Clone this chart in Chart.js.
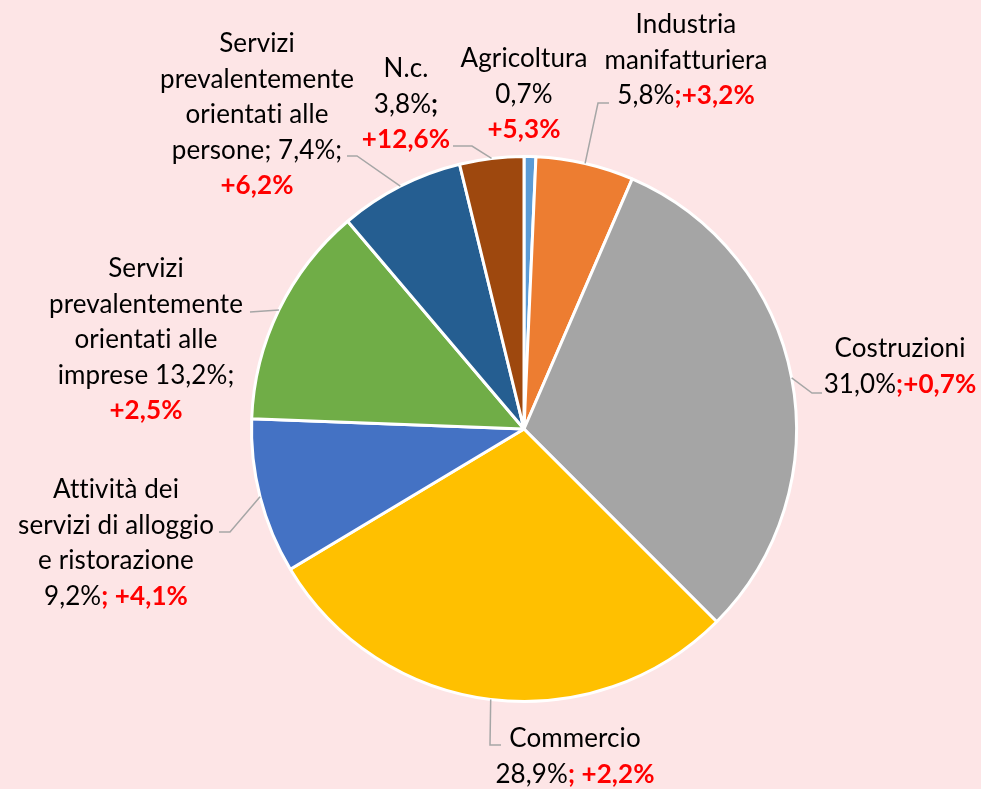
<!DOCTYPE html>
<html>
<head>
<meta charset="utf-8">
<script src="https://cdn.jsdelivr.net/npm/chart.js@4"></script>
<style>
    html, body { margin: 0; padding: 0; background: #fde5e6; }
    #wrap { width: 981px; height: 789px; position: relative; }
</style>
</head>
<body>
<div id="wrap"><canvas id="pieChart" width="981" height="789"></canvas></div>
<script>
// dati
const categories = [
    'Agricoltura', 'Industria manifatturiera', 'Costruzioni', 'Commercio',
    'Attività dei servizi di alloggio e ristorazione',
    'Servizi prevalentemente orientati alle imprese',
    'Servizi prevalentemente orientati alle persone', 'N.c.'
];
const shares = [0.7, 5.8, 31.0, 28.9, 9.2, 13.2, 7.4, 3.8];
const changes = [5.3, 3.2, 0.7, 2.2, 4.1, 2.5, 6.2, 12.6];
const sliceColors = ['#5b9bd5', '#ed7d31', '#a5a5a5', '#ffc000', '#4472c4', '#70ad47', '#255e91', '#9e480e'];

const FONT = 'Lato, "Liberation Sans", sans-serif';
const FONT_SIZE = 26;
const LINE_H = 35.5;
const RED = '#ff0000';

function fmt(v) {
    return v.toFixed(1).replace('.', ',') + '%';
}

// righe delle etichette: {S} = quota, {C} = variazione; ogni segmento [testo, grassetto, rosso]
const labelLines = [
    [[['Agricoltura']], [['{S}']], [['+{C}', true, true]]],
    [[['Industria']], [['manifatturiera']], [['{S}'], [';+{C}', true, true]]],
    [[['Costruzioni']], [['{S}'], [';+{C}', true, true]]],
    [[['Commercio']], [['{S}'], ['; +{C}', true, true]]],
    [[['Attività dei']], [['servizi di alloggio']], [['e ristorazione']], [['{S}'], ['; +{C}', true, true]]],
    [[['Servizi']], [['prevalentemente']], [['orientati alle']], [['imprese {S};']], [['+{C}', true, true]]],
    [[['Servizi']], [['prevalentemente']], [['orientati alle']], [['persone; {S};']], [['+{C}', true, true]]],
    [[['N.c.']], [['{S}'], [';', true]], [['+{C}', true, true]]]
];
// posizione etichetta (centro x, baseline prima riga) e linee guida (gomito, fine)
const labelPos = [[524, 67], [686, 33], [900, 357], [575, 747], [116, 498], [146, 277], [257, 52], [406, 77]];
const leaders = [
    null,
    [[598, 103], [609, 103]],
    [[812, 393], [822, 393]],
    [[490, 745], [501, 745]],
    [[230, 532], [219, 532]],
    [[250, 312], [250, 312]],
    [[357, 156], [347, 156]],
    [[472, 146], [453, 146]]
];

const pieLabels = {
    id: 'pieLabels',
    afterDatasetsDraw(chart) {
        const ctx = chart.ctx;
        const arcs = chart.getDatasetMeta(0).data;
        ctx.save();

        // linee guida
        ctx.strokeStyle = '#a6a6a6';
        ctx.lineWidth = 1.5;
        arcs.forEach((arc, i) => {
            if (!leaders[i]) return;
            const mid = (arc.startAngle + arc.endAngle) / 2;
            const x0 = arc.x + Math.cos(mid) * arc.outerRadius;
            const y0 = arc.y + Math.sin(mid) * arc.outerRadius;
            ctx.beginPath();
            ctx.moveTo(x0, y0);
            ctx.lineTo(leaders[i][0][0], leaders[i][0][1]);
            ctx.lineTo(leaders[i][1][0], leaders[i][1][1]);
            ctx.stroke();
        });

        // testi (letterSpacing minimo per evitare le legature)
        ctx.textBaseline = 'alphabetic';
        ctx.textAlign = 'left';
        if ('letterSpacing' in ctx) ctx.letterSpacing = '0.1px';
        labelLines.forEach((lines, i) => {
            const [cx, by] = labelPos[i];
            lines.forEach((segs, li) => {
                const parts = segs.map(s => ({
                    text: s[0].replace('{S}', fmt(shares[i])).replace('{C}', fmt(changes[i])),
                    font: (s[1] ? 'bold ' : '') + FONT_SIZE + 'px ' + FONT,
                    color: s[2] ? RED : '#000'
                }));
                let total = 0;
                parts.forEach(p => { ctx.font = p.font; p.w = ctx.measureText(p.text).width; total += p.w; });
                let x = cx - total / 2;
                const y = by + li * LINE_H;
                parts.forEach(p => {
                    ctx.font = p.font;
                    ctx.fillStyle = p.color;
                    ctx.fillText(p.text, x, y);
                    x += p.w;
                });
            });
        });
        ctx.restore();
    }
};

function initChart() {
    const ctx = document.getElementById('pieChart').getContext('2d');
    new Chart(ctx, {
        type: 'pie',
        data: {
            labels: categories,
            datasets: [{
                data: shares,
                backgroundColor: sliceColors,
                borderColor: '#ffffff',
                borderWidth: 3
            }]
        },
        options: {
            responsive: false,
            animation: false,
            layout: { padding: { top: 155, bottom: 86, left: 250, right: 183 } },
            plugins: {
                legend: { display: false },
                tooltip: { enabled: false }
            }
        },
        plugins: [pieLabels]
    });
}

if (document.readyState === 'loading') {
    document.addEventListener('DOMContentLoaded', initChart);
} else {
    initChart();
}
</script>
</body>
</html>
